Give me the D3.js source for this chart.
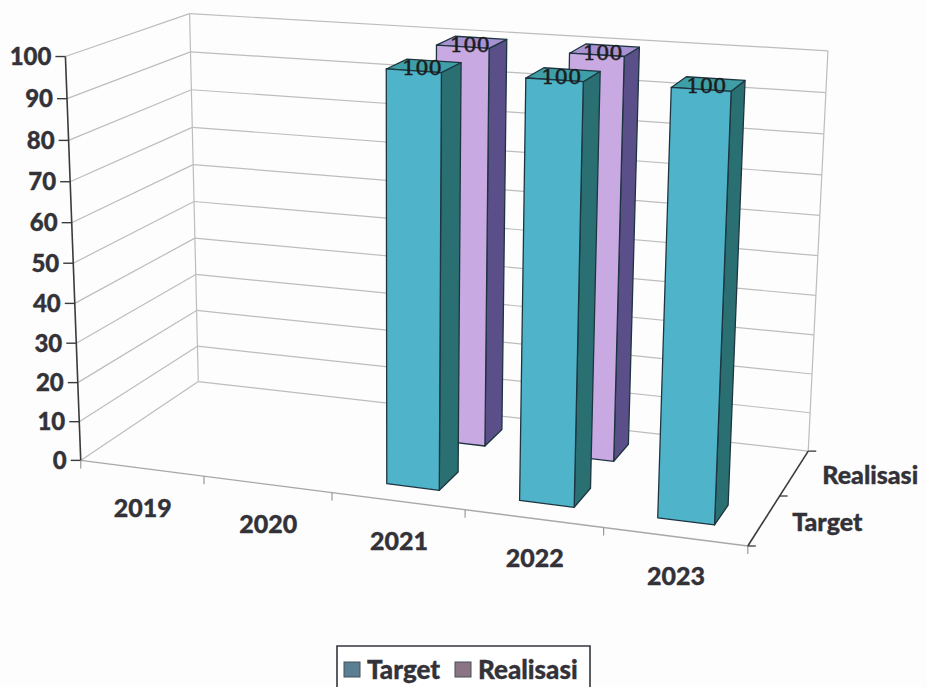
<!DOCTYPE html>
<html><head><meta charset="utf-8">
<script src="https://cdnjs.cloudflare.com/ajax/libs/d3/7.8.5/d3.min.js"></script>
<style>html,body{margin:0;padding:0;background:#fdfdfd}svg{display:block}
text{font-family:Lato,"Open Sans",sans-serif;font-weight:900;fill:#333238;stroke:#333238;stroke-width:.35px}</style>
</head><body><svg id="c" width="927" height="687"></svg>
<script>
const categories = ["2019","2020","2021","2022","2023"];
const seriesNames = ["Target","Realisasi"];
const targetValues = [null,null,100,100,100];
const realisasiValues = [null,null,100,100,null];
const valueTicks = [0,10,20,30,40,50,60,70,80,90,100];

// Perspective frame of the chart box: [u,v,w] -> picture anchor
const frame = [
  [0,0,0,80,459],[1,0,0,748,547],[1,0,1,808,450],[0,0,1,199,383],
  [0,1,0,66,57],[0,1,1,189,13],[1,1,1,828,51]
];
function solve(M,b){const n=b.length,A=M.map((r,i)=>[...r,b[i]]);
  for(let i=0;i<n;i++){let p=i;for(let k=i+1;k<n;k++)if(Math.abs(A[k][i])>Math.abs(A[p][i]))p=k;
    [A[i],A[p]]=[A[p],A[i]];
    for(let k=0;k<n;k++){if(k===i)continue;const f=A[k][i]/A[i][i];for(let j=i;j<=n;j++)A[k][j]-=f*A[i][j];}}
  return A.map((r,i)=>r[n]/r[i]);}
function fitCamera(pts){const R=[],B=[];
  pts.forEach(([u,v,w,x,y])=>{
    R.push([u,v,w,1,0,0,0,0,-x*u,-x*v,-x*w]);B.push(x);
    R.push([0,0,0,0,u,v,w,1,-y*u,-y*v,-y*w]);B.push(y);});
  const N=d3.range(11).map(i=>d3.range(11).map(j=>d3.sum(R,r=>r[i]*r[j])));
  const t=d3.range(11).map(i=>d3.sum(R,(r,k)=>r[i]*B[k]));
  return solve(N,t);}
const P=fitCamera(frame);
function proj(u,v,w){const d=P[8]*u+P[9]*v+P[10]*w+1;
  return [(P[0]*u+P[1]*v+P[2]*w+P[3])/d,(P[4]*u+P[5]*v+P[6]*w+P[7])/d];}

const xBand=d3.scaleBand().domain(categories).range([0,1]).paddingInner(.6).paddingOuter(.3);
const zBand=d3.scaleBand().domain(seriesNames).range([0,1]).paddingInner(.6).paddingOuter(.3);
const yVal=d3.scaleLinear().domain([0,100]).range([0,1]);
const xMid=c=>xBand(c)+xBand.bandwidth()/2, zMid=s=>zBand(s)+zBand.bandwidth()/2;

const svg=d3.select("#c");
const line=d3.line();
const seg=(g,a,b,col,w)=>g.append("path").attr("d",line([proj(...a),proj(...b)])).attr("stroke",col).attr("stroke-width",w).attr("fill","none");

const grid=svg.append("g");
const gridCol="#bdbdbd";
valueTicks.forEach(t=>{const v=yVal(t);
  seg(grid,[0,v,0],[0,v,1],gridCol,1.2);
  seg(grid,[0,v,1],[1,v,1],gridCol,1.2);
});
seg(grid,[0,0,1],[0,1,1],gridCol,1.2);
seg(grid,[1,0,1],[1,1,1],gridCol,1.2);
seg(grid,[0,0,0],[1,0,0],"#a8a8a8",1.4);

// axes
const axes=svg.append("g");
seg(axes,[0,0,0],[0,1,0],"#3b3b3f",1.6);
seg(axes,[1,0,0],[1,0,1],"#3b3b3f",1.6);
valueTicks.forEach(t=>{const [x,y]=proj(0,yVal(t),0);
  axes.append("line").attr("x1",x-10).attr("x2",x).attr("y1",y).attr("y2",y).attr("stroke","#3b3b3f").attr("stroke-width",1.4);
  axes.append("text").attr("x",x-14).attr("y",y).attr("dy","0.35em").attr("text-anchor","end").attr("font-size",24).text(t);
});
d3.range(6).forEach(i=>{const [x,y]=proj(i/5,0,0);
  axes.append("line").attr("x1",x).attr("x2",x).attr("y1",y).attr("y2",y+8).attr("stroke","#9a9a9a").attr("stroke-width",1.2);});
categories.forEach(c=>{const [x,y]=proj(xMid(c),0,0);
  axes.append("text").attr("x",x+1).attr("y",y+40).attr("dy","0.35em").attr("text-anchor","middle").attr("font-size",25).text(c);});
[0,.5,1].forEach(w=>{const [x,y]=proj(1,0,w);
  axes.append("line").attr("x1",x).attr("x2",x+8).attr("y1",y).attr("y2",y).attr("stroke","#3b3b3f").attr("stroke-width",1.3);});
seriesNames.forEach(s=>{const [x,y]=proj(1,0,zMid(s));
  axes.append("text").attr("x",x+28).attr("y",y+2).attr("dy","0.35em").attr("font-size",25).text(s);});

// bars
const colors={Target:{front:"#4fb4ca",side:"#2a7072",top:"#3f9fa6"},Realisasi:{front:"#c9a9e2",side:"#5a4f88",top:"#a892d2"}};
const rows=[];
[["Realisasi",realisasiValues],["Target",targetValues]].forEach(([s,vals])=>{
  vals.forEach((v,i)=>{if(v!==null)rows.push({s,c:categories[i],v});});});
const bars=svg.append("g");
const poly=(g,pts,fill)=>g.append("path").attr("d",line(pts.map(p=>proj(...p)))+"Z").attr("fill",fill).attr("stroke","#1e3540").attr("stroke-width",1.3).attr("stroke-linejoin","round");
rows.forEach(d=>{
  const u0=xBand(d.c),u1=u0+xBand.bandwidth(),w0=zBand(d.s),w1=w0+zBand.bandwidth(),h=yVal(d.v),k=colors[d.s];
  poly(bars,[[u1,0,w0],[u1,0,w1],[u1,h,w1],[u1,h,w0]],k.side);
  poly(bars,[[u0,h,w0],[u1,h,w0],[u1,h,w1],[u0,h,w1]],k.top);
  poly(bars,[[u0,0,w0],[u1,0,w0],[u1,h,w0],[u0,h,w0]],k.front);
});
rows.forEach(d=>{const [x,y]=proj(xMid(d.c),yVal(d.v),zMid(d.s));
  bars.append("text").attr("x",x-2).attr("y",y+2).attr("dy","0.35em").attr("text-anchor","middle")
    .attr("font-size",21).style("font-family","'DejaVu Serif',serif").style("font-weight",400).style("fill","#1c1c1c").style("stroke","#1c1c1c").style("stroke-width",".5px").text(d.v);});

// legend
const lg=svg.append("g");
lg.append("path").attr("d","M337,690V646H590V690").attr("fill","#fff").attr("stroke","#34343c").attr("stroke-width",1.6);
const legendSwatch={Target:"#5b7f92",Realisasi:"#8b7484"};
const legendX={Target:[344,367],Realisasi:[455,478]};
seriesNames.forEach(s=>{
  lg.append("rect").attr("x",legendX[s][0]).attr("y",662).attr("width",16).attr("height",15).attr("fill",legendSwatch[s]).attr("stroke","#44505a");
  lg.append("text").attr("x",legendX[s][1]).attr("y",670).attr("dy","0.35em").attr("font-size",26).text(s);
});
</script></body></html>
